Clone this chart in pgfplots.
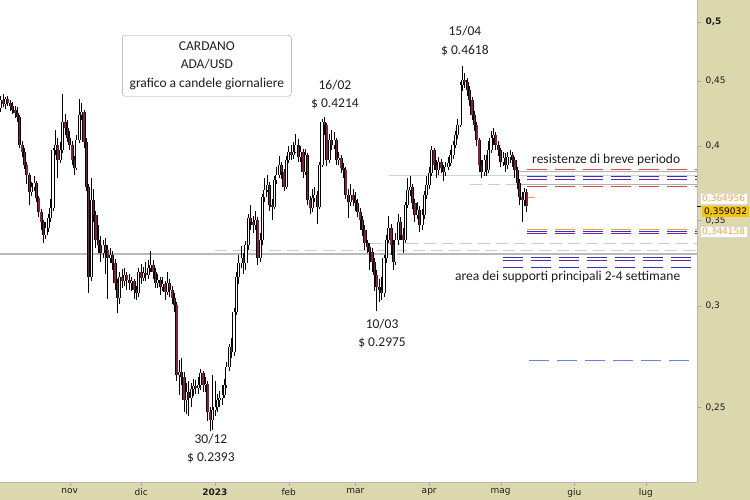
\documentclass[border=0pt]{standalone}
\usepackage{pgfplots}
\usepackage{pgfplotstable}
\usepackage{fontspec}
\pgfplotsset{compat=1.18}
\setmainfont{Carlito}
\newfontfamily\tickfont{DejaVu Sans}

\definecolor{band}{RGB}{218,216,172}
\definecolor{candred}{RGB}{135,32,62}
\definecolor{resred}{RGB}{226,70,70}
\definecolor{resblue}{RGB}{50,50,200}
\definecolor{respurple}{RGB}{110,35,160}
\definecolor{resorange}{RGB}{240,165,60}
\definecolor{lightblue}{RGB}{110,128,235}
\definecolor{goldbox}{RGB}{246,196,0}
\definecolor{txt}{RGB}{30,30,30}

% ADA/USD daily candles, d = days from 1 Jan 2023
\pgfplotstableread{
d o h l c
-90 0.4283 0.4380 0.4250 0.4345
-89 0.4345 0.4395 0.4290 0.4314
-88 0.4314 0.4372 0.4280 0.4353
-87 0.4353 0.4380 0.4300 0.4322
-86 0.4322 0.4350 0.4262 0.4298
-85 0.4298 0.4330 0.4240 0.4267
-84 0.4267 0.4300 0.4205 0.4244
-83 0.4244 0.4290 0.4180 0.4214
-82 0.4214 0.4232 0.3985 0.4007
-81 0.4007 0.4040 0.3925 0.3957
-80 0.3957 0.3990 0.3840 0.3865
-79 0.3865 0.3890 0.3740 0.3796
-78 0.3796 0.3815 0.3600 0.3682
-77 0.3682 0.3750 0.3655 0.3715
-76 0.3715 0.3790 0.3690 0.3742
-75 0.3742 0.3760 0.3620 0.3642
-74 0.3642 0.3660 0.3520 0.3552
-73 0.3552 0.3575 0.3440 0.3488
-72 0.3488 0.3505 0.3360 0.3408
-71 0.3408 0.3490 0.3385 0.3451
-70 0.3451 0.3540 0.3430 0.3513
-69 0.3513 0.3640 0.3490 0.3577
-68 0.3577 0.3990 0.3560 0.3971
-67 0.3971 0.4120 0.3940 0.4007
-66 0.4007 0.4060 0.3780 0.3900
-65 0.3900 0.4030 0.3880 0.3971
-64 0.3971 0.4392 0.3950 0.4176
-63 0.4176 0.4240 0.4080 0.4131
-62 0.4131 0.4190 0.4030 0.4058
-61 0.4058 0.4110 0.3975 0.4007
-60 0.4007 0.4040 0.3870 0.3900
-59 0.3900 0.3930 0.3800 0.3844
-58 0.3844 0.4080 0.3830 0.4043
-57 0.4043 0.4353 0.4020 0.4229
-56 0.4229 0.4320 0.4190 0.4252
-55 0.4252 0.4270 0.3990 0.4029
-54 0.4029 0.4060 0.3690 0.3715
-53 0.3715 0.3740 0.3070 0.3159
-52 0.3159 0.3780 0.3140 0.3629
-51 0.3629 0.3700 0.3490 0.3532
-50 0.3532 0.3560 0.3330 0.3377
-49 0.3377 0.3470 0.3300 0.3347
-48 0.3347 0.3400 0.3250 0.3299
-47 0.3299 0.3380 0.3270 0.3347
-46 0.3347 0.3390 0.3180 0.3316
-45 0.3316 0.3350 0.3040 0.3269
-44 0.3269 0.3330 0.3240 0.3287
-43 0.3287 0.3310 0.3200 0.3240
-42 0.3240 0.3265 0.3090 0.3126
-41 0.3126 0.3150 0.2960 0.3042
-40 0.3042 0.3190 0.3010 0.3159
-39 0.3159 0.3205 0.3100 0.3136
-38 0.3136 0.3210 0.3110 0.3171
-37 0.3171 0.3190 0.3090 0.3142
-36 0.3142 0.3175 0.3090 0.3126
-35 0.3126 0.3160 0.3080 0.3136
-34 0.3136 0.3150 0.3040 0.3086
-33 0.3086 0.3110 0.3030 0.3070
-32 0.3070 0.3210 0.3050 0.3188
-31 0.3188 0.3235 0.3120 0.3154
-30 0.3154 0.3220 0.3140 0.3182
-29 0.3182 0.3250 0.3140 0.3171
-28 0.3171 0.3260 0.3150 0.3211
-27 0.3211 0.3310 0.3190 0.3228
-26 0.3228 0.3260 0.3150 0.3188
-25 0.3188 0.3210 0.3100 0.3126
-24 0.3126 0.3180 0.3100 0.3142
-23 0.3142 0.3160 0.3060 0.3103
-22 0.3103 0.3160 0.3080 0.3120
-21 0.3120 0.3140 0.3030 0.3075
-20 0.3075 0.3190 0.3060 0.3126
-19 0.3126 0.3150 0.3050 0.3086
-18 0.3086 0.3110 0.3010 0.3042
-17 0.3042 0.3070 0.2970 0.3004
-16 0.3004 0.3020 0.2620 0.2648
-15 0.2648 0.2720 0.2555 0.2663
-14 0.2663 0.2730 0.2600 0.2639
-13 0.2639 0.2665 0.2480 0.2532
-12 0.2532 0.2610 0.2470 0.2569
-11 0.2569 0.2620 0.2460 0.2541
-10 0.2541 0.2610 0.2500 0.2582
-9 0.2582 0.2630 0.2550 0.2597
-8 0.2597 0.2625 0.2560 0.2587
-7 0.2587 0.2640 0.2560 0.2601
-6 0.2601 0.2680 0.2580 0.2658
-5 0.2658 0.2670 0.2570 0.2601
-4 0.2601 0.2640 0.2570 0.2606
-3 0.2606 0.2620 0.2440 0.2478
-2 0.2478 0.2500 0.2393 0.2442
-1 0.2442 0.2650 0.2400 0.2487
0 0.2487 0.2620 0.2460 0.2500
1 0.2500 0.2560 0.2480 0.2532
2 0.2532 0.2575 0.2500 0.2541
3 0.2541 0.2600 0.2510 0.2555
4 0.2555 0.2630 0.2540 0.2601
5 0.2601 0.2710 0.2590 0.2687
6 0.2687 0.2800 0.2670 0.2785
7 0.2785 0.2830 0.2730 0.2760
8 0.2760 0.2990 0.2740 0.2967
9 0.2967 0.3190 0.2950 0.3159
10 0.3159 0.3290 0.3120 0.3240
11 0.3240 0.3340 0.3210 0.3269
12 0.3269 0.3300 0.3180 0.3240
13 0.3240 0.3370 0.3200 0.3347
14 0.3347 0.3540 0.3320 0.3513
15 0.3513 0.3600 0.3440 0.3488
16 0.3488 0.3530 0.3420 0.3469
17 0.3469 0.3560 0.3440 0.3501
18 0.3501 0.3520 0.3230 0.3269
19 0.3269 0.3420 0.3250 0.3377
20 0.3377 0.3670 0.3350 0.3649
21 0.3649 0.3780 0.3620 0.3695
22 0.3695 0.3800 0.3680 0.3729
23 0.3729 0.3750 0.3560 0.3597
24 0.3597 0.3640 0.3500 0.3584
25 0.3584 0.3790 0.3570 0.3762
26 0.3762 0.3850 0.3740 0.3796
27 0.3796 0.3930 0.3780 0.3865
28 0.3865 0.3890 0.3770 0.3817
29 0.3817 0.3840 0.3690 0.3715
30 0.3715 0.3930 0.3700 0.3900
31 0.3900 0.4000 0.3880 0.3957
32 0.3957 0.4010 0.3900 0.3935
33 0.3935 0.4030 0.3910 0.3957
34 0.3957 0.4090 0.3950 0.4007
35 0.4007 0.4050 0.3890 0.3921
36 0.3921 0.4000 0.3890 0.3957
37 0.3957 0.3980 0.3780 0.3817
38 0.3817 0.3980 0.3800 0.3935
39 0.3935 0.3950 0.3600 0.3629
40 0.3629 0.3660 0.3540 0.3577
41 0.3577 0.3700 0.3550 0.3642
42 0.3642 0.3720 0.3620 0.3662
43 0.3662 0.3690 0.3480 0.3584
44 0.3584 0.3890 0.3570 0.3865
45 0.3865 0.4200 0.3850 0.4176
46 0.4176 0.4214 0.4080 0.4154
47 0.4154 0.4170 0.3860 0.3900
48 0.3900 0.4090 0.3880 0.4043
49 0.4043 0.4120 0.3970 0.4007
50 0.4007 0.4100 0.3980 0.4043
51 0.4043 0.4060 0.3870 0.3900
52 0.3900 0.3960 0.3870 0.3914
53 0.3914 0.3940 0.3810 0.3844
54 0.3844 0.3880 0.3780 0.3830
55 0.3830 0.3850 0.3640 0.3662
56 0.3662 0.3700 0.3513 0.3616
57 0.3616 0.3740 0.3590 0.3662
58 0.3662 0.3700 0.3590 0.3629
59 0.3629 0.3680 0.3560 0.3610
60 0.3610 0.3640 0.3520 0.3552
61 0.3552 0.3580 0.3440 0.3501
62 0.3501 0.3530 0.3400 0.3438
63 0.3438 0.3470 0.3320 0.3359
64 0.3359 0.3380 0.3300 0.3335
65 0.3335 0.3360 0.3200 0.3305
66 0.3305 0.3330 0.3190 0.3246
67 0.3246 0.3270 0.3080 0.3171
68 0.3171 0.3200 0.2975 0.3103
69 0.3103 0.3150 0.3020 0.3086
70 0.3086 0.3160 0.3030 0.3070
71 0.3070 0.3290 0.3050 0.3269
72 0.3269 0.3410 0.3240 0.3377
73 0.3377 0.3530 0.3360 0.3451
74 0.3451 0.3480 0.3290 0.3347
75 0.3347 0.3380 0.3200 0.3246
76 0.3246 0.3420 0.3230 0.3377
77 0.3377 0.3540 0.3350 0.3488
78 0.3488 0.3520 0.3380 0.3408
79 0.3408 0.3450 0.3300 0.3377
80 0.3377 0.3620 0.3360 0.3597
81 0.3597 0.3780 0.3580 0.3695
82 0.3695 0.3790 0.3660 0.3715
83 0.3715 0.3740 0.3570 0.3610
84 0.3610 0.3640 0.3490 0.3532
85 0.3532 0.3620 0.3510 0.3564
86 0.3564 0.3590 0.3430 0.3469
87 0.3469 0.3570 0.3440 0.3532
88 0.3532 0.3690 0.3510 0.3662
89 0.3662 0.3790 0.3640 0.3729
90 0.3729 0.3850 0.3700 0.3810
91 0.3810 0.4000 0.3790 0.3971
92 0.3971 0.3990 0.3830 0.3865
93 0.3865 0.3900 0.3780 0.3830
94 0.3830 0.3920 0.3800 0.3886
95 0.3886 0.3910 0.3810 0.3844
96 0.3844 0.3870 0.3760 0.3817
97 0.3817 0.3890 0.3790 0.3851
98 0.3851 0.3920 0.3830 0.3879
99 0.3879 0.3970 0.3860 0.3935
100 0.3935 0.4040 0.3910 0.4007
101 0.4007 0.4110 0.3990 0.4080
102 0.4080 0.4200 0.4050 0.4154
103 0.4154 0.4490 0.4140 0.4464
104 0.4464 0.4618 0.4420 0.4504
105 0.4504 0.4560 0.4440 0.4488
106 0.4488 0.4520 0.4380 0.4424
107 0.4424 0.4460 0.4300 0.4345
108 0.4345 0.4370 0.4190 0.4229
109 0.4229 0.4260 0.4110 0.4154
110 0.4154 0.4180 0.4000 0.4043
111 0.4043 0.4060 0.3820 0.3865
112 0.3865 0.3900 0.3780 0.3817
113 0.3817 0.3940 0.3790 0.3900
114 0.3900 0.3940 0.3790 0.3830
115 0.3830 0.4040 0.3810 0.3971
116 0.3971 0.4110 0.3950 0.4058
117 0.4058 0.4130 0.4010 0.4080
118 0.4080 0.4100 0.3970 0.4007
119 0.4007 0.4040 0.3930 0.3971
120 0.3971 0.3990 0.3850 0.3886
121 0.3886 0.3960 0.3860 0.3914
122 0.3914 0.3950 0.3820 0.3865
123 0.3865 0.3960 0.3840 0.3921
124 0.3921 0.3970 0.3880 0.3935
125 0.3935 0.3960 0.3850 0.3900
126 0.3900 0.3920 0.3780 0.3830
127 0.3830 0.3850 0.3700 0.3742
128 0.3742 0.3770 0.3600 0.3649
129 0.3649 0.3680 0.3488 0.3629
130 0.3629 0.3710 0.3590 0.3682
131 0.3682 0.3700 0.3550 0.3590
}\ada

\pgfplotsset{
  candle/.style n args={2}{draw=none, mark=none,
    error bars/.cd, y dir=plus, y explicit, error mark=none,
    error bar style={draw=#1, line width=#2}},
}

\begin{document}
\begin{tikzpicture}
\fill[band] (0,0) rectangle (750bp,500bp);
\begin{axis}[
    at={(0,18bp)}, anchor=south west,
    width=697bp, height=482bp, scale only axis,
    ymode=log, ymin=0.2185, ymax=0.5204,
    xmin=-90.3, xmax=202.5,
    axis x line*=bottom, axis y line*=right,
    axis line style={gray!55},
    axis background/.style={fill=white},
    tick align=outside, major tick length=4bp,
    tick style={gray!70},
    yminorticks=false,
    xtick={-61,-31,0,31,59,90,120,151,181},
    xticklabels={nov,dic,\textbf{2023},feb,mar,apr,mag,giu,lug},
    ytick={0.25,0.3,0.35,0.4,0.45,0.5},
    yticklabels={{0,25},{0,3},{0,35},{0,4},{0,45},\textbf{0,5}},
    extra y ticks={0.359032}, extra y tick labels={},
    extra y tick style={tick style={black}},
    ticklabel style={font=\tickfont\fontsize{9bp}{11bp}\selectfont, text=txt},
    xticklabel style={yshift=1bp},
    yticklabel style={xshift=1bp},
    clip mode=individual,
  ]
  % reference levels
  \addplot[gray!55, line width=1.6bp] coordinates {(-91,0.3293)(203,0.3293)};
  \addplot[gray!40, dash pattern=on 12bp off 6bp] coordinates {(0,0.3316)(203,0.3316)};
  \addplot[gray!40, dash pattern=on 12bp off 6bp] coordinates {(65,0.3359)(203,0.3359)};
  \addplot[gray!35] coordinates {(73,0.3796)(203,0.3796)};
  \addplot[gray!40, dash pattern=on 12bp off 6bp] coordinates {(107,0.3735)(127,0.3735)};
  \addplot[gray!60] coordinates {(127,0.3823)(203,0.3823)};
  \addplot[gray!60] coordinates {(127,0.3735)(203,0.3735)};
  % resistenze
  \addplot[resred, dash pattern=on 20bp off 8bp] coordinates {(131.1,0.3837)(202.5,0.3837)};
  \addplot[resblue, dash pattern=on 20bp off 8bp] coordinates {(131.1,0.3789)(202.5,0.3789)};
  \addplot[respurple, dash pattern=on 20bp off 8bp] coordinates {(131.1,0.3769)(202.5,0.3769)};
  \addplot[resred, dash pattern=on 20bp off 8bp] coordinates {(131.1,0.3722)(202.5,0.3722)};
  % supporti
  \addplot[resorange, dash pattern=on 20bp off 8bp] coordinates {(131.1,0.3442)(202.5,0.3442)};
  \addplot[resblue, dash pattern=on 20bp off 8bp] coordinates {(131.1,0.3432)(202.5,0.3432)};
  \addplot[respurple, dash pattern=on 20bp off 8bp] coordinates {(131.1,0.3418)(202.5,0.3418)};
  \addplot[resblue, dash pattern=on 20bp off 8bp] coordinates {(121,0.3275)(202.5,0.3275)};
  \addplot[respurple, dash pattern=on 20bp off 8bp] coordinates {(121,0.3257)(202.5,0.3257)};
  \addplot[resblue, dash pattern=on 20bp off 8bp] coordinates {(121,0.3218)(202.5,0.3218)};
  \addplot[lightblue, dash pattern=on 20bp off 8bp] coordinates {(132,0.2721)(202.5,0.2721)};
  \addplot[resorange, line width=0.8bp] coordinates {(131.6,0.364956)(134.6,0.364956)};
  % wicks
  \addplot[candle={black}{0.9bp}]
    table[x=d, y=l, y error expr=\thisrow{h}-\thisrow{l}] {\ada};
  % rising bodies
  \addplot[restrict expr to domain={\thisrow{c}-\thisrow{o}}{0:1}, candle={black}{3.2bp}]
    table[x=d, y=o, y error expr=\thisrow{c}-\thisrow{o}] {\ada};
  \addplot[restrict expr to domain={\thisrow{c}-\thisrow{o}}{0:1}, candle={white}{1.3bp}]
    table[x=d, y=o, y error expr=\thisrow{c}-\thisrow{o}] {\ada};
  % falling bodies
  \addplot[restrict expr to domain={\thisrow{o}-\thisrow{c}}{0.00001:1}, candle={black}{3.2bp}]
    table[x=d, y=c, y error expr=\thisrow{o}-\thisrow{c}] {\ada};
  \addplot[restrict expr to domain={\thisrow{o}-\thisrow{c}}{0.00001:1}, candle={candred}{1.4bp}]
    table[x=d, y=c, y error expr=\thisrow{o}-\thisrow{c}] {\ada};
  % annotations
  \begin{scope}[every node/.style={text=txt, font=\fontsize{13.5bp}{18.5bp}\selectfont, align=center}]
    \node[draw=gray!75, rounded corners=3bp, minimum width=169bp, minimum height=61bp, fill=white]
      at (axis cs:-3.4,0.4623) {CARDANO\\ADA/USD\\grafico a candele giornaliere};
    \node at (axis cs:50.4,0.4388) {16/02\\\$ 0.4214};
    \node at (axis cs:105,0.4832) {15/04\\\$ 0.4618};
    \node at (axis cs:70.2,0.2854) {10/03\\\$ 0.2975};
    \node at (axis cs:-1.7,0.2320) {30/12\\\$ 0.2393};
    \node[anchor=west, inner sep=0pt] at (axis cs:133.2,0.3900) {resistenze di breve periodo};
    \node[anchor=west, inner sep=0pt] at (axis cs:100.8,0.3159) {area dei supporti principali 2-4 settimane};
  \end{scope}
  \coordinate (pa) at (axis cs:202.5,0.3640);
  \coordinate (pb) at (axis cs:202.5,0.3555);
  \coordinate (pc) at (axis cs:202.5,0.3430);
\end{axis}
\begin{scope}[every node/.style={font=\tickfont\fontsize{9bp}{11bp}\selectfont, anchor=west, inner xsep=2bp, inner ysep=1.5bp, minimum height=11bp}]
  \node[fill=white, draw=gray!30, text=resorange, xshift=3bp] at (pa) {0,364956};
  \node[fill=goldbox, text=black, xshift=5bp] at (pb) {0,359032};
  \node[fill=white, draw=gray!30, text=resorange, xshift=3bp] at (pc) {0,344158};
\end{scope}
\pgfresetboundingbox
\path (0,0) rectangle (750bp,500bp);
\end{tikzpicture}
\end{document}
